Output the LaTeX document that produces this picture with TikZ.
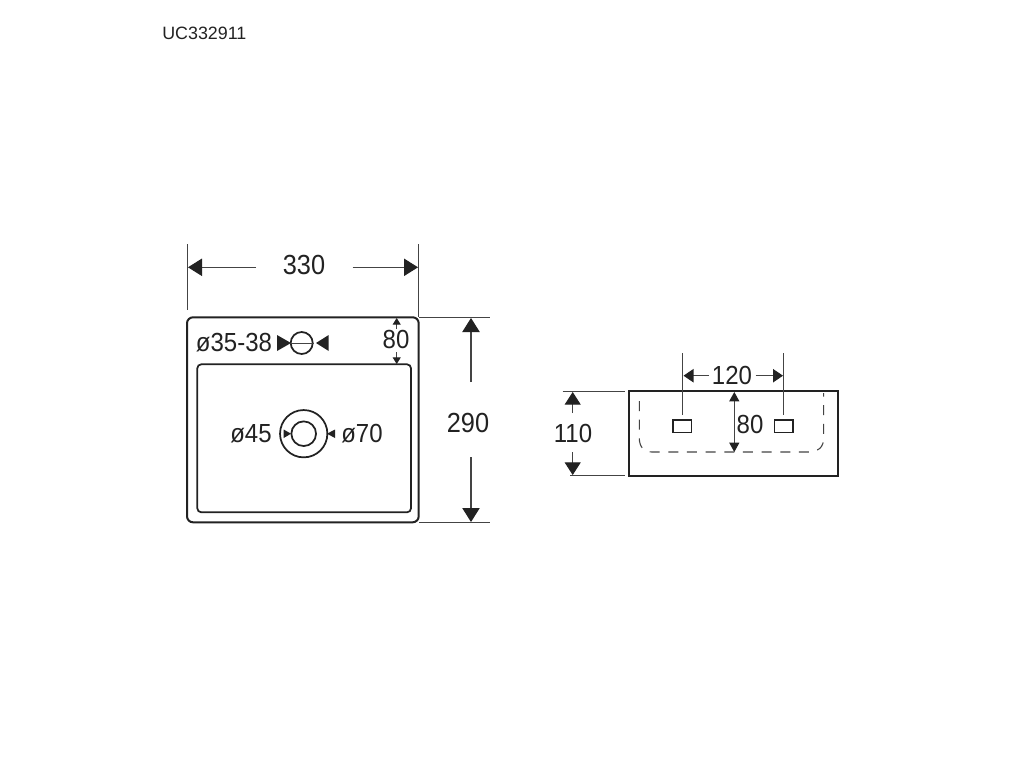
\documentclass[tikz,border=0pt]{standalone}
\usepackage{fontspec}
\usepackage{graphicx}
\setmainfont{Liberation Sans}
\usetikzlibrary{arrows.meta}
\definecolor{ink}{HTML}{222222}
\definecolor{dim}{HTML}{444444}
\newcommand{\tallnum}[1]{\scalebox{1}[1.09]{#1}}
\tikzset{
  outline/.style={draw=ink,line width=1.5pt},
  thinbox/.style={draw=ink,line width=1.3pt},
  extline/.style={draw=dim,line width=0.7pt},
  dimline/.style={draw=dim,line width=0.8pt},
  bigtip/.style={-{Triangle[length=10.5pt,width=13pt,color=ink]}},
  midtip/.style={-{Triangle[length=9.5pt,width=12pt,color=ink]}},
  headtip/.style={-{Triangle[length=7.5pt,width=10pt,color=ink]}},
  smalltip/.style={-{Triangle[length=5pt,width=6pt,color=ink]}},
  hiddenline/.style={draw=dim,line width=0.8pt,dash pattern=on 7.5pt off 6.5pt},
  txt/.style={inner sep=0pt,font=\fontsize{18pt}{20pt}\selectfont,text=ink},
  bigtxt/.style={inner sep=0pt,font=\fontsize{19pt}{21pt}\selectfont,text=ink},
  tiptri/.style={fill=ink,draw=none},
}
\begin{document}
\begin{tikzpicture}[x=0.75pt,y=-0.75pt]
\useasboundingbox[fill=white] (0,0) rectangle (1024,768);
% header
\node[inner sep=0pt,anchor=west,font=\fontsize{13.4pt}{16pt}\selectfont,text=ink] (code) at (162,33) {UC332911};
% top view body
\draw[outline,rounded corners=4.5pt] (187,317.3) rectangle (418.7,522.3);
\draw[thinbox,rounded corners=3pt] (197.3,364.3) rectangle (411,512.3);
% width dimension
\coordinate (wa1) at (187,244); \coordinate (wa2) at (187,310);
\coordinate (wb1) at (418.7,244); \coordinate (wb2) at (418.7,317.3);
\draw[extline] (wa1) -- (wa2);
\draw[extline] (wb1) -- (wb2);
\node[bigtxt] (w330) at (304,265) {\tallnum{330}};
\coordinate (wl) at (256,267.3); \coordinate (wlt) at (188,267.3);
\coordinate (wr) at (352.7,267.3); \coordinate (wrt) at (418,267.3);
\draw[dimline,bigtip] (wl) -- (wlt);
\draw[dimline,bigtip] (wr) -- (wrt);
% height dimension
\coordinate (ha1) at (419,317.3); \coordinate (ha2) at (490,317.3);
\coordinate (hb1) at (419,522.3); \coordinate (hb2) at (490,522.3);
\draw[extline] (ha1) -- (ha2);
\draw[extline] (hb1) -- (hb2);
\node[bigtxt] (h290) at (468,423) {\tallnum{290}};
\coordinate (hu) at (471,382); \coordinate (hut) at (471,318);
\coordinate (hd) at (471,457); \coordinate (hdt) at (471,522);
\draw[dimline,bigtip] (hu) -- (hut);
\draw[dimline,bigtip] (hd) -- (hdt);
% tap hole
\node[txt] (tap) at (234,343) {\tallnum{ø35-38}};
\node[draw=ink,line width=1.3pt,circle,minimum size=16.5pt,inner sep=0pt] (taphole) at (301.7,343) {};
\draw[extline] (taphole.west) -- (taphole.east);
\fill[tiptri] (277,335) -- (291,343) -- (277,351) -- cycle;
\fill[tiptri] (328.7,335) -- (316,343) -- (328.7,351) -- cycle;
% 80 dimension
\node[txt] (d80) at (396,339) {\tallnum{80}};
\coordinate (d80a) at (396.7,329); \coordinate (d80at) at (396.7,318);
\coordinate (d80b) at (396.7,352); \coordinate (d80bt) at (396.7,364);
\draw[dimline,smalltip] (d80a) -- (d80at);
\draw[dimline,smalltip] (d80b) -- (d80bt);
% drain
\node[draw=ink,line width=1.3pt,circle,minimum size=35.5pt,inner sep=0pt] (drainout) at (303.7,433.7) {};
\node[draw=ink,line width=1.3pt,circle,minimum size=18.5pt,inner sep=0pt] (drainin) at (303.7,433.7) {};
\node[txt] (d45) at (251,433.5) {\tallnum{ø45}};
\node[txt] (d70) at (362,433.5) {\tallnum{ø70}};
\fill[tiptri] (283.7,429.5) -- (291,433.7) -- (283.7,438) -- cycle;
\fill[tiptri] (335,429.5) -- (327,433.7) -- (335,438) -- cycle;
% side view
\draw[outline] (628.7,391.3) rectangle (837.7,475.7);
\draw[hiddenline] (639.3,401) -- (639.3,438) .. controls (639.3,447) and (644,452) .. (652,452) -- (810,452) .. controls (818,452) and (823.7,447) .. (823.7,438) -- (823.7,393);
\node[draw=ink,line width=1.2pt,minimum width=14pt,minimum height=9.5pt,inner sep=0pt] (slotl) at (682.3,426.2) {};
\node[draw=ink,line width=1.2pt,minimum width=14pt,minimum height=9.5pt,inner sep=0pt] (slotr) at (783.7,426.2) {};
\coordinate (sl) at (682.3,353); \coordinate (sr) at (783.7,353);
\coordinate (slb) at (682.3,415); \coordinate (srb) at (783.7,415);
\draw[extline] (sl) -- (slb);
\draw[extline] (sr) -- (srb);
% 120
\node[txt] (d120) at (732,375) {\tallnum{120}};
\coordinate (c1) at (709,375.7); \coordinate (c1t) at (683.5,375.7);
\coordinate (c2) at (755.7,375.7); \coordinate (c2t) at (783,375.7);
\draw[dimline,headtip] (c1) -- (c1t);
\draw[dimline,headtip] (c2) -- (c2t);
% 80 side
\node[txt] (s80) at (750,424) {\tallnum{80}};
\coordinate (s80a) at (734.3,392); \coordinate (s80b) at (734.3,452);
\draw[dimline,{Triangle[length=7pt,width=7.5pt,color=ink]}-{Triangle[length=7pt,width=7.5pt,color=ink]}] (s80a) -- (s80b);
% 110
\coordinate (e1a) at (562.7,391.3); \coordinate (e1b) at (625,391.3);
\coordinate (e2a) at (570,475.7); \coordinate (e2b) at (625,475.7);
\draw[extline] (e1a) -- (e1b);
\draw[extline] (e2a) -- (e2b);
\node[txt] (s110) at (573,433) {\tallnum{110}};
\coordinate (p1) at (572.7,413); \coordinate (p1t) at (572.7,392);
\coordinate (p2) at (572.7,452); \coordinate (p2t) at (572.7,475);
\draw[dimline,midtip] (p1) -- (p1t);
\draw[dimline,midtip] (p2) -- (p2t);
\end{tikzpicture}
\end{document}
